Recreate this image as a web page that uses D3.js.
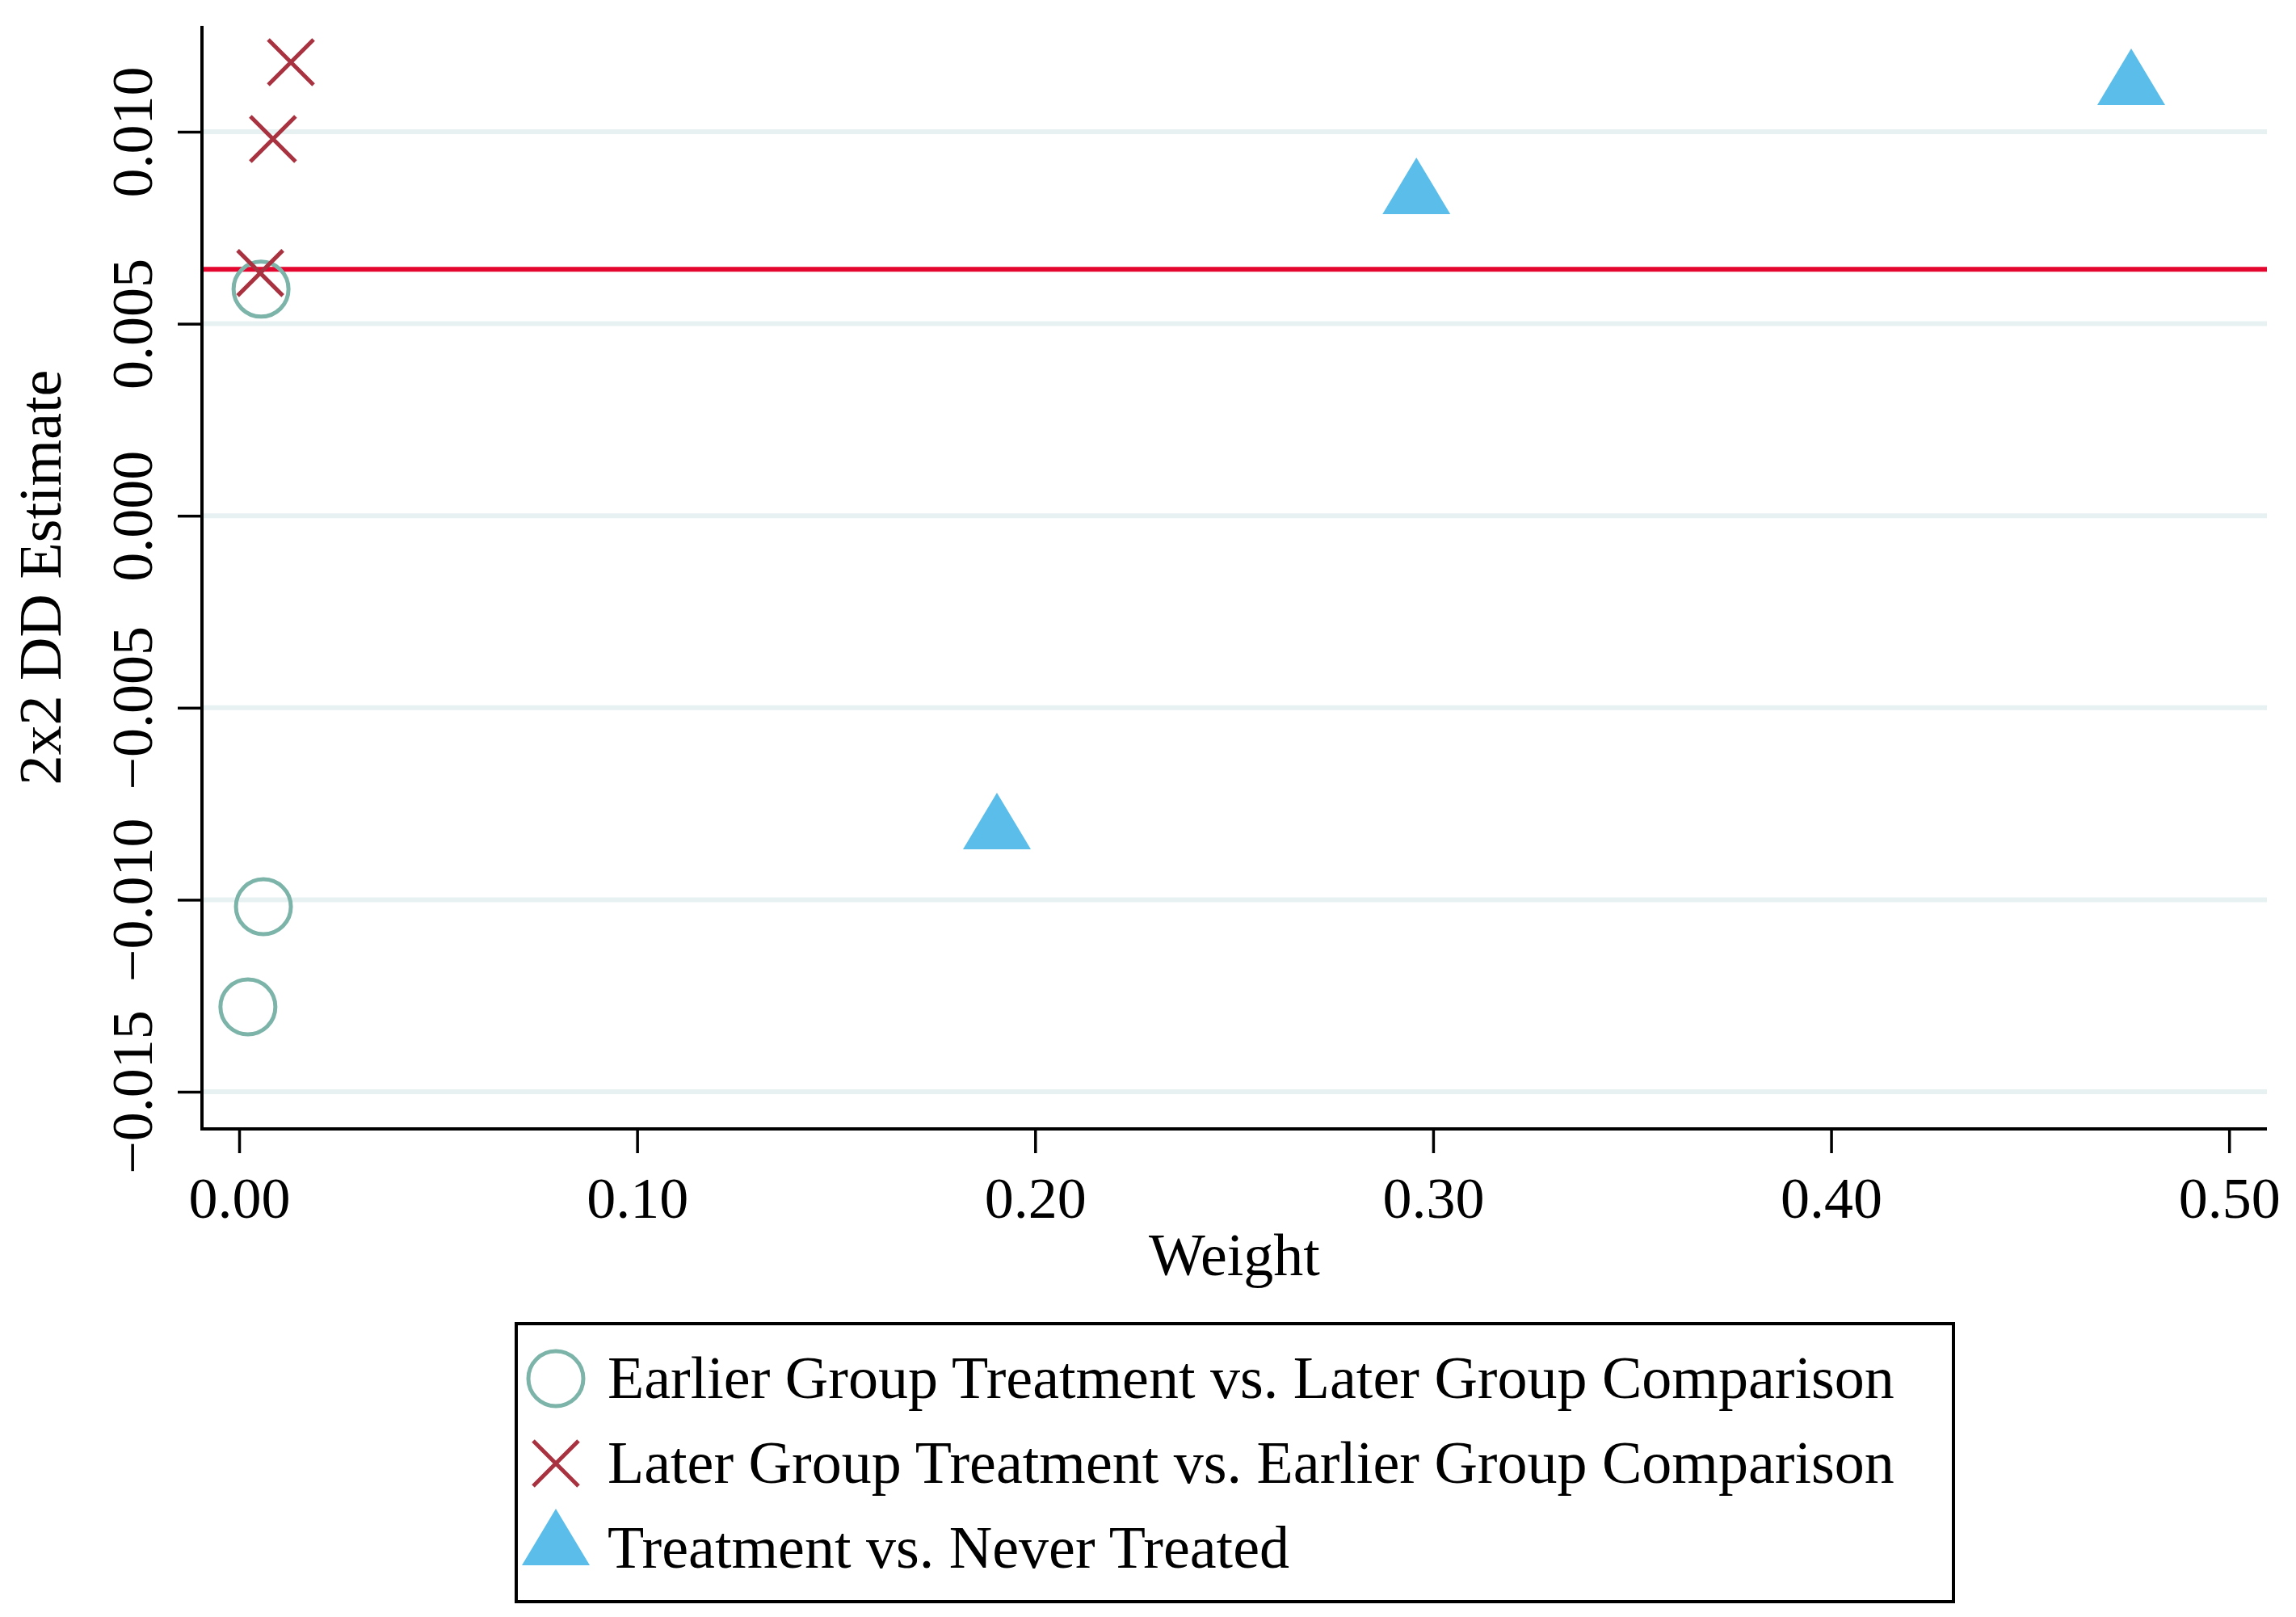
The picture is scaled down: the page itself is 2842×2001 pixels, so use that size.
<!DOCTYPE html>
<html>
<head>
<meta charset="utf-8">
<script src="https://cdn.jsdelivr.net/npm/d3@7"></script>
<style>
  body { margin: 0; background: #fff; }
  text { font-family: "Liberation Serif", "Times New Roman", serif; }
</style>
</head>
<body>
<svg id="chart" width="2842" height="2001"></svg>
<script>
// series: [weight, estimate]
const earlierVsLater = [[0.0055, 0.0059], [0.0061, -0.01018], [0.0022, -0.01279]];
const laterVsEarlier = [[0.0130, 0.01181], [0.0085, 0.00981], [0.0053, 0.00632]];
const treatVsNever = [[0.4754, 0.01143], [0.1904, -0.00795], [0.2958, 0.00859]];
const overallEstimate = 0.00642;

const xTicks = [0, 0.1, 0.2, 0.3, 0.4, 0.5];
const yTicks = [0.010, 0.005, 0.000, -0.005, -0.010, -0.015];
const legendLabels = [
  "Earlier Group Treatment vs. Later Group Comparison",
  "Later Group Treatment vs. Earlier Group Comparison",
  "Treatment vs. Never Treated"
];

const COL_CIRCLE = "#7db4aa";
const COL_X = "#a8323f";
const COL_TRI = "#5bbde9";
const COL_LINE = "#e4062f";
const COL_GRID = "#e8f1f2";

const svg = d3.select("#chart");
const plotL = 250, plotR = 2806, plotT = 32, plotB = 1397;

const x = d3.scaleLinear().domain([-0.00934, 0.5095]).range([plotL, plotR]);
const y = d3.scaleLinear().domain([-0.015968, 0.012757]).range([plotB, plotT]);

// grid
svg.append("g").selectAll("line")
  .data(yTicks)
  .join("line")
  .attr("x1", plotL).attr("x2", plotR)
  .attr("y1", d => y(d)).attr("y2", d => y(d))
  .attr("stroke", COL_GRID).attr("stroke-width", 6);

// overall DD line
svg.append("line")
  .attr("x1", plotL).attr("x2", plotR)
  .attr("y1", y(overallEstimate)).attr("y2", y(overallEstimate))
  .attr("stroke", COL_LINE).attr("stroke-width", 6);

// axes
const yAxis = svg.append("g")
  .attr("transform", `translate(${plotL},0)`)
  .call(d3.axisLeft(y).tickValues(yTicks).tickFormat(d3.format(".3f")).tickSize(30).tickPadding(0));
yAxis.select(".domain").attr("stroke-width", 4).attr("d", `M0,${plotT}V${plotB}`);
yAxis.selectAll(".tick line").attr("stroke-width", 3.5);
yAxis.selectAll(".tick text")
  .attr("x", null).attr("dy", null)
  .attr("transform", "translate(-62,0) rotate(-90)")
  .attr("text-anchor", "middle")
  .attr("font-size", 72)
  .attr("fill", "#000");

const xAxis = svg.append("g")
  .attr("transform", `translate(0,${plotB})`)
  .call(d3.axisBottom(x).tickValues(xTicks).tickFormat(d3.format(".2f")).tickSize(30).tickPadding(0));
xAxis.select(".domain").attr("stroke-width", 4).attr("d", `M${plotL - 2},0H${plotR}`);
xAxis.selectAll(".tick line").attr("stroke-width", 3.5);
xAxis.selectAll(".tick text")
  .attr("y", 110).attr("dy", null)
  .attr("font-size", 72)
  .attr("fill", "#000");
svg.selectAll(".tick text").attr("font-family", "Liberation Serif, Times New Roman, serif");

// axis titles
svg.append("text")
  .attr("transform", `translate(75,${(plotT + plotB) / 2}) rotate(-90)`)
  .attr("text-anchor", "middle")
  .attr("font-size", 74)
  .text("2x2 DD Estimate");

svg.append("text")
  .attr("x", (plotL + plotR) / 2).attr("y", 1578)
  .attr("text-anchor", "middle")
  .attr("font-size", 74)
  .text("Weight");

// markers
const drawCircle = (g, cx, cy) => g.append("circle")
  .attr("cx", cx).attr("cy", cy).attr("r", 34)
  .attr("fill", "none").attr("stroke", COL_CIRCLE).attr("stroke-width", 5);
const drawX = (g, cx, cy) => g.append("path")
  .attr("d", `M${cx - 28},${cy - 28}L${cx + 28},${cy + 28}M${cx - 28},${cy + 28}L${cx + 28},${cy - 28}`)
  .attr("stroke", COL_X).attr("stroke-width", 5).attr("fill", "none");
const drawTri = (g, cx, cy) => g.append("path")
  .attr("d", `M${cx},${cy - 35}L${cx + 42},${cy + 35}L${cx - 42},${cy + 35}Z`)
  .attr("fill", COL_TRI);

const marks = svg.append("g");
earlierVsLater.forEach(d => drawCircle(marks, x(d[0]), y(d[1])));
laterVsEarlier.forEach(d => drawX(marks, x(d[0]), y(d[1])));
treatVsNever.forEach(d => drawTri(marks, x(d[0]), y(d[1])));

// legend
const legend = svg.append("g");
legend.append("rect")
  .attr("x", 639).attr("y", 1638).attr("width", 1779).attr("height", 344)
  .attr("fill", "#fff").attr("stroke", "#000").attr("stroke-width", 4);
const drawers = [drawCircle, drawX, drawTri];
const rowY = [1706, 1811, 1902];
legendLabels.forEach((lab, i) => {
  drawers[i](legend, 688, rowY[i]);
  legend.append("text")
    .attr("x", 752).attr("y", 1730 + i * 105)
    .attr("font-size", 74)
    .text(lab);
});
</script>
</body>
</html>
